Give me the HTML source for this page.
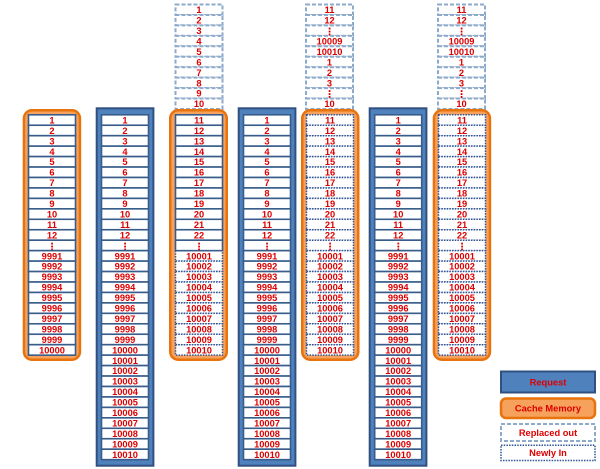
<!DOCTYPE html>
<html><head><meta charset="utf-8"><style>
html,body{margin:0;padding:0;background:#fff;}
svg{display:block}
text{font-family:"Liberation Sans",sans-serif;font-weight:bold;font-size:9.3px;fill:#dd0000;text-anchor:middle}
text.v{font-family:"DejaVu Sans",sans-serif;font-weight:bold;font-size:10px;transform:translateY(1px)}
.s rect{fill:#fff;stroke:#385d8a;stroke-width:1.6}
.d rect{fill:#fff;stroke:#2f5597;stroke-width:1.5;stroke-dasharray:1.5 1.2}
.r rect{fill:#fff;stroke:#8eaacb;stroke-width:2;stroke-dasharray:4 2}
.or{fill:#f6a15c;stroke:#e8720c;stroke-width:2.5}
.bl{fill:#4f81bd;stroke:#2f5080;stroke-width:2}
</style></head><body>
<svg width="600" height="469" viewBox="0 0 600 469" xmlns="http://www.w3.org/2000/svg">

<!-- Column A: cache (orange) -->
<rect class="or" x="23.95" y="110.25" width="56" height="249.5" rx="8"/>
<g class="s" transform="translate(28.5,0)">
<rect y="114.8" width="47" height="10.45"/><text x="23.5" y="123.4">1</text>
<rect y="125.25" width="47" height="10.45"/><text x="23.5" y="133.85">2</text>
<rect y="135.7" width="47" height="10.45"/><text x="23.5" y="144.3">3</text>
<rect y="146.15" width="47" height="10.45"/><text x="23.5" y="154.75">4</text>
<rect y="156.6" width="47" height="10.45"/><text x="23.5" y="165.2">5</text>
<rect y="167.05" width="47" height="10.45"/><text x="23.5" y="175.65">6</text>
<rect y="177.5" width="47" height="10.45"/><text x="23.5" y="186.1">7</text>
<rect y="187.95" width="47" height="10.45"/><text x="23.5" y="196.55">8</text>
<rect y="198.4" width="47" height="10.45"/><text x="23.5" y="207">9</text>
<rect y="208.85" width="47" height="10.45"/><text x="23.5" y="217.45">10</text>
<rect y="219.3" width="47" height="10.45"/><text x="23.5" y="227.9">11</text>
<rect y="229.75" width="47" height="10.45"/><text x="23.5" y="238.35">12</text>
<rect y="240.2" width="47" height="10.45"/><text class="v" x="23.5" y="248.8">⋮</text>
<rect y="250.65" width="47" height="10.45"/><text x="23.5" y="259.25">9991</text>
<rect y="261.1" width="47" height="10.45"/><text x="23.5" y="269.7">9992</text>
<rect y="271.55" width="47" height="10.45"/><text x="23.5" y="280.15">9993</text>
<rect y="282" width="47" height="10.45"/><text x="23.5" y="290.6">9994</text>
<rect y="292.45" width="47" height="10.45"/><text x="23.5" y="301.05">9995</text>
<rect y="302.9" width="47" height="10.45"/><text x="23.5" y="311.5">9996</text>
<rect y="313.35" width="47" height="10.45"/><text x="23.5" y="321.95">9997</text>
<rect y="323.8" width="47" height="10.45"/><text x="23.5" y="332.4">9998</text>
<rect y="334.25" width="47" height="10.45"/><text x="23.5" y="342.85">9999</text>
<rect y="344.7" width="47" height="10.45"/><text x="23.5" y="353.3">10000</text>
</g>

<!-- Column B: request (blue) -->
<rect class="bl" x="96.7" y="108.3" width="56.7" height="357.4"/>
<g class="s" transform="translate(101.5,0)">
<rect y="114.8" width="47" height="10.45"/><text x="23.5" y="123.4">1</text>
<rect y="125.25" width="47" height="10.45"/><text x="23.5" y="133.85">2</text>
<rect y="135.7" width="47" height="10.45"/><text x="23.5" y="144.3">3</text>
<rect y="146.15" width="47" height="10.45"/><text x="23.5" y="154.75">4</text>
<rect y="156.6" width="47" height="10.45"/><text x="23.5" y="165.2">5</text>
<rect y="167.05" width="47" height="10.45"/><text x="23.5" y="175.65">6</text>
<rect y="177.5" width="47" height="10.45"/><text x="23.5" y="186.1">7</text>
<rect y="187.95" width="47" height="10.45"/><text x="23.5" y="196.55">8</text>
<rect y="198.4" width="47" height="10.45"/><text x="23.5" y="207">9</text>
<rect y="208.85" width="47" height="10.45"/><text x="23.5" y="217.45">10</text>
<rect y="219.3" width="47" height="10.45"/><text x="23.5" y="227.9">11</text>
<rect y="229.75" width="47" height="10.45"/><text x="23.5" y="238.35">12</text>
<rect y="240.2" width="47" height="10.45"/><text class="v" x="23.5" y="248.8">⋮</text>
<rect y="250.65" width="47" height="10.45"/><text x="23.5" y="259.25">9991</text>
<rect y="261.1" width="47" height="10.45"/><text x="23.5" y="269.7">9992</text>
<rect y="271.55" width="47" height="10.45"/><text x="23.5" y="280.15">9993</text>
<rect y="282" width="47" height="10.45"/><text x="23.5" y="290.6">9994</text>
<rect y="292.45" width="47" height="10.45"/><text x="23.5" y="301.05">9995</text>
<rect y="302.9" width="47" height="10.45"/><text x="23.5" y="311.5">9996</text>
<rect y="313.35" width="47" height="10.45"/><text x="23.5" y="321.95">9997</text>
<rect y="323.8" width="47" height="10.45"/><text x="23.5" y="332.4">9998</text>
<rect y="334.25" width="47" height="10.45"/><text x="23.5" y="342.85">9999</text>
<rect y="344.7" width="47" height="10.45"/><text x="23.5" y="353.3">10000</text>
<rect y="355.15" width="47" height="10.45"/><text x="23.5" y="363.75">10001</text>
<rect y="365.6" width="47" height="10.45"/><text x="23.5" y="374.2">10002</text>
<rect y="376.05" width="47" height="10.45"/><text x="23.5" y="384.65">10003</text>
<rect y="386.5" width="47" height="10.45"/><text x="23.5" y="395.1">10004</text>
<rect y="396.95" width="47" height="10.45"/><text x="23.5" y="405.55">10005</text>
<rect y="407.4" width="47" height="10.45"/><text x="23.5" y="416">10006</text>
<rect y="417.85" width="47" height="10.45"/><text x="23.5" y="426.45">10007</text>
<rect y="428.3" width="47" height="10.45"/><text x="23.5" y="436.9">10008</text>
<rect y="438.75" width="47" height="10.45"/><text x="23.5" y="447.35">10009</text>
<rect y="449.2" width="47" height="10.45"/><text x="23.5" y="457.8">10010</text>
</g>

<!-- Column C: replaced out stack -->
<g class="r" transform="translate(175.5,0)">
<rect y="4.5" width="47" height="10.45"/><text x="23.5" y="13.1">1</text>
<rect y="14.95" width="47" height="10.45"/><text x="23.5" y="23.55">2</text>
<rect y="25.4" width="47" height="10.45"/><text x="23.5" y="34">3</text>
<rect y="35.85" width="47" height="10.45"/><text x="23.5" y="44.45">4</text>
<rect y="46.3" width="47" height="10.45"/><text x="23.5" y="54.9">5</text>
<rect y="56.75" width="47" height="10.45"/><text x="23.5" y="65.35">6</text>
<rect y="67.2" width="47" height="10.45"/><text x="23.5" y="75.8">7</text>
<rect y="77.65" width="47" height="10.45"/><text x="23.5" y="86.25">8</text>
<rect y="88.1" width="47" height="10.45"/><text x="23.5" y="96.7">9</text>
<rect y="98.55" width="47" height="10.45"/><text x="23.5" y="107.15">10</text>
</g>
<!-- Column C: cache -->
<rect class="or" x="170.25" y="110.25" width="56.5" height="249.5" rx="8"/>
<g class="d" transform="translate(175.5,0)">
<rect y="250.65" width="47" height="10.45"/><text x="23.5" y="259.25">10001</text>
<rect y="261.1" width="47" height="10.45"/><text x="23.5" y="269.7">10002</text>
<rect y="271.55" width="47" height="10.45"/><text x="23.5" y="280.15">10003</text>
<rect y="282" width="47" height="10.45"/><text x="23.5" y="290.6">10004</text>
<rect y="292.45" width="47" height="10.45"/><text x="23.5" y="301.05">10005</text>
<rect y="302.9" width="47" height="10.45"/><text x="23.5" y="311.5">10006</text>
<rect y="313.35" width="47" height="10.45"/><text x="23.5" y="321.95">10007</text>
<rect y="323.8" width="47" height="10.45"/><text x="23.5" y="332.4">10008</text>
<rect y="334.25" width="47" height="10.45"/><text x="23.5" y="342.85">10009</text>
<rect y="344.7" width="47" height="10.45"/><text x="23.5" y="353.3">10010</text>
</g>
<g class="s" transform="translate(175.5,0)">
<rect y="114.8" width="47" height="10.45"/><text x="23.5" y="123.4">11</text>
<rect y="125.25" width="47" height="10.45"/><text x="23.5" y="133.85">12</text>
<rect y="135.7" width="47" height="10.45"/><text x="23.5" y="144.3">13</text>
<rect y="146.15" width="47" height="10.45"/><text x="23.5" y="154.75">14</text>
<rect y="156.6" width="47" height="10.45"/><text x="23.5" y="165.2">15</text>
<rect y="167.05" width="47" height="10.45"/><text x="23.5" y="175.65">16</text>
<rect y="177.5" width="47" height="10.45"/><text x="23.5" y="186.1">17</text>
<rect y="187.95" width="47" height="10.45"/><text x="23.5" y="196.55">18</text>
<rect y="198.4" width="47" height="10.45"/><text x="23.5" y="207">19</text>
<rect y="208.85" width="47" height="10.45"/><text x="23.5" y="217.45">20</text>
<rect y="219.3" width="47" height="10.45"/><text x="23.5" y="227.9">21</text>
<rect y="229.75" width="47" height="10.45"/><text x="23.5" y="238.35">22</text>
<rect y="240.2" width="47" height="10.45"/><text class="v" x="23.5" y="248.8">⋮</text>
</g>

<!-- Column D: request -->
<rect class="bl" x="238.7" y="108.3" width="56.7" height="357.4"/>
<g class="s" transform="translate(243.5,0)">
<rect y="114.8" width="47" height="10.45"/><text x="23.5" y="123.4">1</text>
<rect y="125.25" width="47" height="10.45"/><text x="23.5" y="133.85">2</text>
<rect y="135.7" width="47" height="10.45"/><text x="23.5" y="144.3">3</text>
<rect y="146.15" width="47" height="10.45"/><text x="23.5" y="154.75">4</text>
<rect y="156.6" width="47" height="10.45"/><text x="23.5" y="165.2">5</text>
<rect y="167.05" width="47" height="10.45"/><text x="23.5" y="175.65">6</text>
<rect y="177.5" width="47" height="10.45"/><text x="23.5" y="186.1">7</text>
<rect y="187.95" width="47" height="10.45"/><text x="23.5" y="196.55">8</text>
<rect y="198.4" width="47" height="10.45"/><text x="23.5" y="207">9</text>
<rect y="208.85" width="47" height="10.45"/><text x="23.5" y="217.45">10</text>
<rect y="219.3" width="47" height="10.45"/><text x="23.5" y="227.9">11</text>
<rect y="229.75" width="47" height="10.45"/><text x="23.5" y="238.35">12</text>
<rect y="240.2" width="47" height="10.45"/><text class="v" x="23.5" y="248.8">⋮</text>
<rect y="250.65" width="47" height="10.45"/><text x="23.5" y="259.25">9991</text>
<rect y="261.1" width="47" height="10.45"/><text x="23.5" y="269.7">9992</text>
<rect y="271.55" width="47" height="10.45"/><text x="23.5" y="280.15">9993</text>
<rect y="282" width="47" height="10.45"/><text x="23.5" y="290.6">9994</text>
<rect y="292.45" width="47" height="10.45"/><text x="23.5" y="301.05">9995</text>
<rect y="302.9" width="47" height="10.45"/><text x="23.5" y="311.5">9996</text>
<rect y="313.35" width="47" height="10.45"/><text x="23.5" y="321.95">9997</text>
<rect y="323.8" width="47" height="10.45"/><text x="23.5" y="332.4">9998</text>
<rect y="334.25" width="47" height="10.45"/><text x="23.5" y="342.85">9999</text>
<rect y="344.7" width="47" height="10.45"/><text x="23.5" y="353.3">10000</text>
<rect y="355.15" width="47" height="10.45"/><text x="23.5" y="363.75">10001</text>
<rect y="365.6" width="47" height="10.45"/><text x="23.5" y="374.2">10002</text>
<rect y="376.05" width="47" height="10.45"/><text x="23.5" y="384.65">10003</text>
<rect y="386.5" width="47" height="10.45"/><text x="23.5" y="395.1">10004</text>
<rect y="396.95" width="47" height="10.45"/><text x="23.5" y="405.55">10005</text>
<rect y="407.4" width="47" height="10.45"/><text x="23.5" y="416">10006</text>
<rect y="417.85" width="47" height="10.45"/><text x="23.5" y="426.45">10007</text>
<rect y="428.3" width="47" height="10.45"/><text x="23.5" y="436.9">10008</text>
<rect y="438.75" width="47" height="10.45"/><text x="23.5" y="447.35">10009</text>
<rect y="449.2" width="47" height="10.45"/><text x="23.5" y="457.8">10010</text>
</g>

<!-- Column E: replaced out stack -->
<g class="r" transform="translate(306,0)">
<rect y="4.5" width="47" height="10.45"/><text x="23.5" y="13.1">11</text>
<rect y="14.95" width="47" height="10.45"/><text x="23.5" y="23.55">12</text>
<rect y="25.4" width="47" height="10.45"/><text class="v" x="23.5" y="34">⋮</text>
<rect y="35.85" width="47" height="10.45"/><text x="23.5" y="44.45">10009</text>
<rect y="46.3" width="47" height="10.45"/><text x="23.5" y="54.9">10010</text>
<rect y="56.75" width="47" height="10.45"/><text x="23.5" y="65.35">1</text>
<rect y="67.2" width="47" height="10.45"/><text x="23.5" y="75.8">2</text>
<rect y="77.65" width="47" height="10.45"/><text x="23.5" y="86.25">3</text>
<rect y="88.1" width="47" height="10.45"/><text class="v" x="23.5" y="96.7">⋮</text>
<rect y="98.55" width="47" height="10.45"/><text x="23.5" y="107.15">10</text>
</g>
<!-- Column E: cache -->
<rect class="or" x="302.25" y="110.25" width="56" height="249.5" rx="8"/>
<g class="d" transform="translate(306.5,0)">
<rect y="114.8" width="47" height="10.45"/><text x="23.5" y="123.4">11</text>
<rect y="125.25" width="47" height="10.45"/><text x="23.5" y="133.85">12</text>
<rect y="135.7" width="47" height="10.45"/><text x="23.5" y="144.3">13</text>
<rect y="146.15" width="47" height="10.45"/><text x="23.5" y="154.75">14</text>
<rect y="156.6" width="47" height="10.45"/><text x="23.5" y="165.2">15</text>
<rect y="167.05" width="47" height="10.45"/><text x="23.5" y="175.65">16</text>
<rect y="177.5" width="47" height="10.45"/><text x="23.5" y="186.1">17</text>
<rect y="187.95" width="47" height="10.45"/><text x="23.5" y="196.55">18</text>
<rect y="198.4" width="47" height="10.45"/><text x="23.5" y="207">19</text>
<rect y="208.85" width="47" height="10.45"/><text x="23.5" y="217.45">20</text>
<rect y="219.3" width="47" height="10.45"/><text x="23.5" y="227.9">21</text>
<rect y="229.75" width="47" height="10.45"/><text x="23.5" y="238.35">22</text>
<rect y="240.2" width="47" height="10.45"/><text class="v" x="23.5" y="248.8">⋮</text>
<rect y="250.65" width="47" height="10.45"/><text x="23.5" y="259.25">10001</text>
<rect y="261.1" width="47" height="10.45"/><text x="23.5" y="269.7">10002</text>
<rect y="271.55" width="47" height="10.45"/><text x="23.5" y="280.15">10003</text>
<rect y="282" width="47" height="10.45"/><text x="23.5" y="290.6">10004</text>
<rect y="292.45" width="47" height="10.45"/><text x="23.5" y="301.05">10005</text>
<rect y="302.9" width="47" height="10.45"/><text x="23.5" y="311.5">10006</text>
<rect y="313.35" width="47" height="10.45"/><text x="23.5" y="321.95">10007</text>
<rect y="323.8" width="47" height="10.45"/><text x="23.5" y="332.4">10008</text>
<rect y="334.25" width="47" height="10.45"/><text x="23.5" y="342.85">10009</text>
<rect y="344.7" width="47" height="10.45"/><text x="23.5" y="353.3">10010</text>
</g>

<!-- Column F: request -->
<rect class="bl" x="369.7" y="108.3" width="56.7" height="357.4"/>
<g class="s" transform="translate(374.7,0)">
<rect y="114.8" width="47" height="10.45"/><text x="23.5" y="123.4">1</text>
<rect y="125.25" width="47" height="10.45"/><text x="23.5" y="133.85">2</text>
<rect y="135.7" width="47" height="10.45"/><text x="23.5" y="144.3">3</text>
<rect y="146.15" width="47" height="10.45"/><text x="23.5" y="154.75">4</text>
<rect y="156.6" width="47" height="10.45"/><text x="23.5" y="165.2">5</text>
<rect y="167.05" width="47" height="10.45"/><text x="23.5" y="175.65">6</text>
<rect y="177.5" width="47" height="10.45"/><text x="23.5" y="186.1">7</text>
<rect y="187.95" width="47" height="10.45"/><text x="23.5" y="196.55">8</text>
<rect y="198.4" width="47" height="10.45"/><text x="23.5" y="207">9</text>
<rect y="208.85" width="47" height="10.45"/><text x="23.5" y="217.45">10</text>
<rect y="219.3" width="47" height="10.45"/><text x="23.5" y="227.9">11</text>
<rect y="229.75" width="47" height="10.45"/><text x="23.5" y="238.35">12</text>
<rect y="240.2" width="47" height="10.45"/><text class="v" x="23.5" y="248.8">⋮</text>
<rect y="250.65" width="47" height="10.45"/><text x="23.5" y="259.25">9991</text>
<rect y="261.1" width="47" height="10.45"/><text x="23.5" y="269.7">9992</text>
<rect y="271.55" width="47" height="10.45"/><text x="23.5" y="280.15">9993</text>
<rect y="282" width="47" height="10.45"/><text x="23.5" y="290.6">9994</text>
<rect y="292.45" width="47" height="10.45"/><text x="23.5" y="301.05">9995</text>
<rect y="302.9" width="47" height="10.45"/><text x="23.5" y="311.5">9996</text>
<rect y="313.35" width="47" height="10.45"/><text x="23.5" y="321.95">9997</text>
<rect y="323.8" width="47" height="10.45"/><text x="23.5" y="332.4">9998</text>
<rect y="334.25" width="47" height="10.45"/><text x="23.5" y="342.85">9999</text>
<rect y="344.7" width="47" height="10.45"/><text x="23.5" y="353.3">10000</text>
<rect y="355.15" width="47" height="10.45"/><text x="23.5" y="363.75">10001</text>
<rect y="365.6" width="47" height="10.45"/><text x="23.5" y="374.2">10002</text>
<rect y="376.05" width="47" height="10.45"/><text x="23.5" y="384.65">10003</text>
<rect y="386.5" width="47" height="10.45"/><text x="23.5" y="395.1">10004</text>
<rect y="396.95" width="47" height="10.45"/><text x="23.5" y="405.55">10005</text>
<rect y="407.4" width="47" height="10.45"/><text x="23.5" y="416">10006</text>
<rect y="417.85" width="47" height="10.45"/><text x="23.5" y="426.45">10007</text>
<rect y="428.3" width="47" height="10.45"/><text x="23.5" y="436.9">10008</text>
<rect y="438.75" width="47" height="10.45"/><text x="23.5" y="447.35">10009</text>
<rect y="449.2" width="47" height="10.45"/><text x="23.5" y="457.8">10010</text>
</g>

<!-- Column G: replaced out stack -->
<g class="r" transform="translate(438,0)">
<rect y="4.5" width="47" height="10.45"/><text x="23.5" y="13.1">11</text>
<rect y="14.95" width="47" height="10.45"/><text x="23.5" y="23.55">12</text>
<rect y="25.4" width="47" height="10.45"/><text class="v" x="23.5" y="34">⋮</text>
<rect y="35.85" width="47" height="10.45"/><text x="23.5" y="44.45">10009</text>
<rect y="46.3" width="47" height="10.45"/><text x="23.5" y="54.9">10010</text>
<rect y="56.75" width="47" height="10.45"/><text x="23.5" y="65.35">1</text>
<rect y="67.2" width="47" height="10.45"/><text x="23.5" y="75.8">2</text>
<rect y="77.65" width="47" height="10.45"/><text x="23.5" y="86.25">3</text>
<rect y="88.1" width="47" height="10.45"/><text class="v" x="23.5" y="96.7">⋮</text>
<rect y="98.55" width="47" height="10.45"/><text x="23.5" y="107.15">10</text>
</g>
<!-- Column G: cache -->
<rect class="or" x="433.95" y="110.25" width="56" height="249.5" rx="8"/>
<g class="d" transform="translate(438.5,0)">
<rect y="114.8" width="47" height="10.45"/><text x="23.5" y="123.4">11</text>
<rect y="125.25" width="47" height="10.45"/><text x="23.5" y="133.85">12</text>
<rect y="135.7" width="47" height="10.45"/><text x="23.5" y="144.3">13</text>
<rect y="146.15" width="47" height="10.45"/><text x="23.5" y="154.75">14</text>
<rect y="156.6" width="47" height="10.45"/><text x="23.5" y="165.2">15</text>
<rect y="167.05" width="47" height="10.45"/><text x="23.5" y="175.65">16</text>
<rect y="177.5" width="47" height="10.45"/><text x="23.5" y="186.1">17</text>
<rect y="187.95" width="47" height="10.45"/><text x="23.5" y="196.55">18</text>
<rect y="198.4" width="47" height="10.45"/><text x="23.5" y="207">19</text>
<rect y="208.85" width="47" height="10.45"/><text x="23.5" y="217.45">20</text>
<rect y="219.3" width="47" height="10.45"/><text x="23.5" y="227.9">21</text>
<rect y="229.75" width="47" height="10.45"/><text x="23.5" y="238.35">22</text>
<rect y="240.2" width="47" height="10.45"/><text class="v" x="23.5" y="248.8">⋮</text>
<rect y="250.65" width="47" height="10.45"/><text x="23.5" y="259.25">10001</text>
<rect y="261.1" width="47" height="10.45"/><text x="23.5" y="269.7">10002</text>
<rect y="271.55" width="47" height="10.45"/><text x="23.5" y="280.15">10003</text>
<rect y="282" width="47" height="10.45"/><text x="23.5" y="290.6">10004</text>
<rect y="292.45" width="47" height="10.45"/><text x="23.5" y="301.05">10005</text>
<rect y="302.9" width="47" height="10.45"/><text x="23.5" y="311.5">10006</text>
<rect y="313.35" width="47" height="10.45"/><text x="23.5" y="321.95">10007</text>
<rect y="323.8" width="47" height="10.45"/><text x="23.5" y="332.4">10008</text>
<rect y="334.25" width="47" height="10.45"/><text x="23.5" y="342.85">10009</text>
<rect y="344.7" width="47" height="10.45"/><text x="23.5" y="353.3">10010</text>
</g>

<!-- Legend -->
<rect class="bl" x="501" y="371.5" width="94" height="21"/>
<text x="548" y="385.3">Request</text>
<rect class="or" x="501" y="398.5" width="94" height="19.5" rx="5"/>
<text x="548" y="411.5">Cache Memory</text>
<g class="r"><rect x="501" y="424" width="94" height="17"/></g>
<text x="548" y="435.8">Replaced out</text>
<g class="d"><rect x="501" y="445.2" width="94" height="15.3"/></g>
<text x="548" y="456">Newly In</text>
</svg>
</body></html>
